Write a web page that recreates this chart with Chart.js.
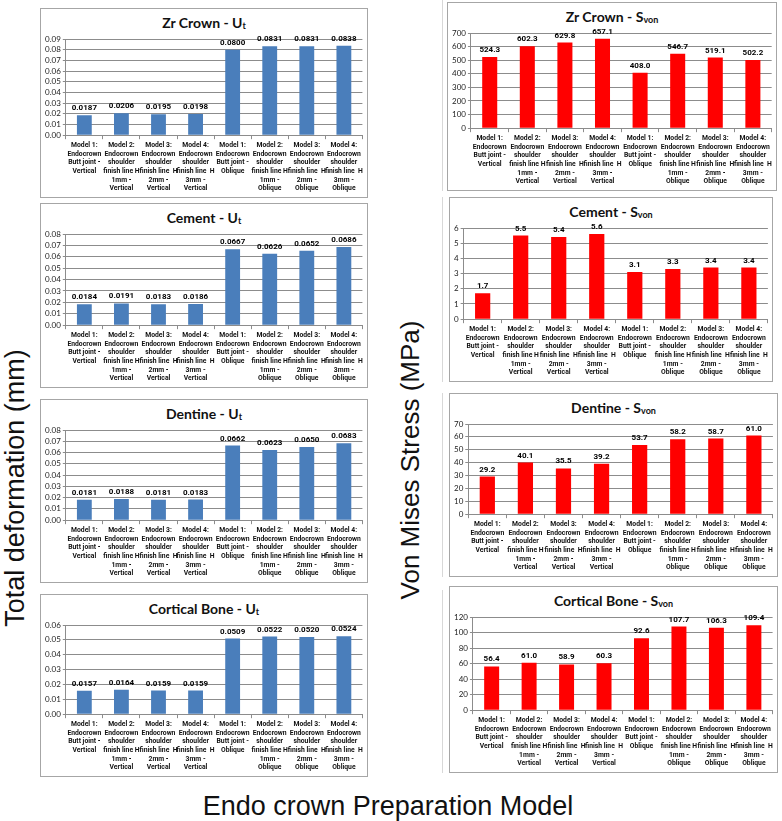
<!DOCTYPE html>
<html lang="en">
<head>
<meta charset="UTF-8">
<title>Endo crown Preparation Model</title>
<script src="https://cdn.jsdelivr.net/npm/chart.js"></script>
<style>
    body { margin: 0; background: #fff; font-family: 'Liberation Sans', Arial, sans-serif; }
    #page { position: relative; width: 782px; height: 821px; overflow: hidden; }
    .panel { position: absolute; border: 1px solid #a6a6a6; background: #fff; box-sizing: border-box; }
    .panel .ttl {
        position: absolute; left: 0; right: 0; top: 5px; text-align: center;
        font-weight: bold; font-size: 14px; color: #111; font-family: Lato, sans-serif;
    }
    .panel .ttl sub { font-size: 9px; vertical-align: -1px; }
    .panel canvas { position: absolute; left: 2px; top: 22px; }
    .edge { position: absolute; left: 442px; width: 1px; background: #d8d8d8; }
    .big { position: absolute; color: #111; white-space: nowrap; }
    .rot { transform: translate(-50%, -50%) rotate(-90deg); }
</style>
</head>
<body>
<div id="page">
    <div class="big rot" style="left:15px; top:488px; font-size:27px;">Total deformation (mm)</div>
    <div class="big rot" style="left:410px; top:460px; font-size:26px;">Von Mises Stress (MPa)</div>
    <div class="big" style="left:388px; top:806px; font-size:27px; transform: translate(-50%, -50%);">Endo crown Preparation Model</div>

    <div class="edge" style="top:0px; height:191px;"></div>
    <div class="edge" style="top:197px; height:185px;"></div>
    <div class="edge" style="top:393px; height:184px;"></div>
    <div class="edge" style="top:590px; height:183px;"></div>

    <div class="panel" style="left:40px; top:8px; width:328px; height:190px;">
        <div class="ttl">Zr Crown - U<sub>t</sub></div>
        <canvas id="zrU" width="322" height="164"></canvas>
    </div>
    <div class="panel" style="left:40px; top:203px; width:328px; height:185px;">
        <div class="ttl">Cement - U<sub>t</sub></div>
        <canvas id="cementU" width="322" height="159"></canvas>
    </div>
    <div class="panel" style="left:40px; top:399px; width:328px; height:184px;">
        <div class="ttl">Dentine - U<sub>t</sub></div>
        <canvas id="dentineU" width="322" height="158"></canvas>
    </div>
    <div class="panel" style="left:40px; top:594px; width:328px; height:183px;">
        <div class="ttl">Cortical Bone - U<sub>t</sub></div>
        <canvas id="corticalU" width="322" height="157"></canvas>
    </div>

    <div class="panel" style="left:447px; top:2px; width:330px; height:189px;">
        <div class="ttl">Zr Crown - S<sub>von</sub></div>
        <canvas id="zrS" width="324" height="163"></canvas>
    </div>
    <div class="panel" style="left:449px; top:197px; width:324px; height:185px;">
        <div class="ttl">Cement - S<sub>von</sub></div>
        <canvas id="cementS" width="318" height="159"></canvas>
    </div>
    <div class="panel" style="left:449px; top:393px; width:329px; height:184px;">
        <div class="ttl">Dentine - S<sub>von</sub></div>
        <canvas id="dentineS" width="323" height="158"></canvas>
    </div>
    <div class="panel" style="left:449px; top:586px; width:329px; height:187px;">
        <div class="ttl">Cortical Bone - S<sub>von</sub></div>
        <canvas id="corticalS" width="323" height="161"></canvas>
    </div>
</div>

<script>
    // categories shared by all eight panels
    const categories = [
        ['Model 1:', 'Endocrown', 'Butt joint -', 'Vertical'],
        ['Model 2:', 'Endocrown', 'shoulder', 'finish line H', '1mm -', 'Vertical'],
        ['Model 3:', 'Endocrown', 'shoulder', 'finish line  H', '2mm -', 'Vertical'],
        ['Model 4:', 'Endocrown', 'shoulder', 'finish line  H', '3mm -', 'Vertical'],
        ['Model 1:', 'Endocrown', 'Butt joint -', 'Oblique'],
        ['Model 2:', 'Endocrown', 'shoulder', 'finish line H', '1mm -', 'Oblique'],
        ['Model 3:', 'Endocrown', 'shoulder', 'finish line  H', '2mm -', 'Oblique'],
        ['Model 4:', 'Endocrown', 'shoulder', 'finish line  H', '3mm -', 'Oblique']
    ];

    // total deformation (mm)
    const zrDeformation = [0.0187, 0.0206, 0.0195, 0.0198, 0.0800, 0.0831, 0.0831, 0.0838];
    const cementDeformation = [0.0184, 0.0191, 0.0183, 0.0186, 0.0667, 0.0626, 0.0652, 0.0686];
    const dentineDeformation = [0.0181, 0.0188, 0.0181, 0.0183, 0.0662, 0.0623, 0.0650, 0.0683];
    const corticalDeformation = [0.0157, 0.0164, 0.0159, 0.0159, 0.0509, 0.0522, 0.0520, 0.0524];

    // von Mises stress (MPa)
    const zrStress = [524.3, 602.3, 629.8, 657.1, 408.0, 546.7, 519.1, 502.2];
    const cementStress = [1.7, 5.5, 5.4, 5.6, 3.1, 3.3, 3.4, 3.4];
    const dentineStress = [29.2, 40.1, 35.5, 39.2, 53.7, 58.2, 58.7, 61.0];
    const corticalStress = [56.4, 61.0, 58.9, 60.3, 92.6, 107.7, 106.3, 109.4];

    const BLUE = '#4a7ebb';
    const RED = '#ff0000';
    const FONT = 'Lato, sans-serif';
    const BOLD_FONT = 'Roboto, sans-serif';

    // value printed above each bar
    const valueLabels = {
        id: 'valueLabels',
        afterDatasetsDraw(chart, args, opts) {
            const ctx = chart.ctx;
            const values = chart.data.datasets[0].data;
            ctx.save();
            ctx.font = 'bold 8px ' + BOLD_FONT;
            ctx.fillStyle = '#000';
            ctx.textAlign = 'center';
            ctx.textBaseline = 'bottom';
            chart.getDatasetMeta(0).data.forEach((bar, i) => {
                ctx.fillText(values[i].toFixed(opts.decimals), bar.x, bar.y - 3);
            });
            ctx.restore();
        }
    };

    function drawPanel(id, values, color, max, step, tickDecimals, labelDecimals) {
        new Chart(document.getElementById(id), {
            type: 'bar',
            data: {
                labels: categories,
                datasets: [{
                    data: values,
                    backgroundColor: color,
                    barPercentage: 0.4,
                    categoryPercentage: 1.0
                }]
            },
            options: {
                responsive: false,
                animation: false,
                layout: { padding: { top: 8, right: 2, left: 0, bottom: 0 } },
                plugins: {
                    legend: { display: false },
                    tooltip: { enabled: false },
                    valueLabels: { decimals: labelDecimals }
                },
                scales: {
                    x: {
                        grid: { drawOnChartArea: false, color: '#8c8c8c', tickLength: 4 },
                        border: { color: '#8c8c8c' },
                        ticks: {
                            autoSkip: false, maxRotation: 0, minRotation: 0, padding: 2,
                            color: '#111',
                            font: { family: BOLD_FONT, size: 6.8, weight: 'bold', lineHeight: 1.27 }
                        }
                    },
                    y: {
                        min: 0, max: max,
                        grid: { color: '#8c8c8c', tickLength: 3 },
                        border: { color: '#8c8c8c' },
                        ticks: {
                            stepSize: step, autoSkip: false, padding: 2, color: '#222',
                            font: { family: FONT, size: 8 },
                            callback: v => v.toFixed(tickDecimals)
                        }
                    }
                }
            },
            plugins: [valueLabels]
        });
    }

    drawPanel('zrU', zrDeformation, BLUE, 0.09, 0.01, 2, 4);
    drawPanel('cementU', cementDeformation, BLUE, 0.08, 0.01, 2, 4);
    drawPanel('dentineU', dentineDeformation, BLUE, 0.08, 0.01, 2, 4);
    drawPanel('corticalU', corticalDeformation, BLUE, 0.06, 0.01, 2, 4);

    drawPanel('zrS', zrStress, RED, 700, 100, 0, 1);
    drawPanel('cementS', cementStress, RED, 6, 1, 0, 1);
    drawPanel('dentineS', dentineStress, RED, 70, 10, 0, 1);
    drawPanel('corticalS', corticalStress, RED, 120, 20, 0, 1);
</script>
</body>
</html>
